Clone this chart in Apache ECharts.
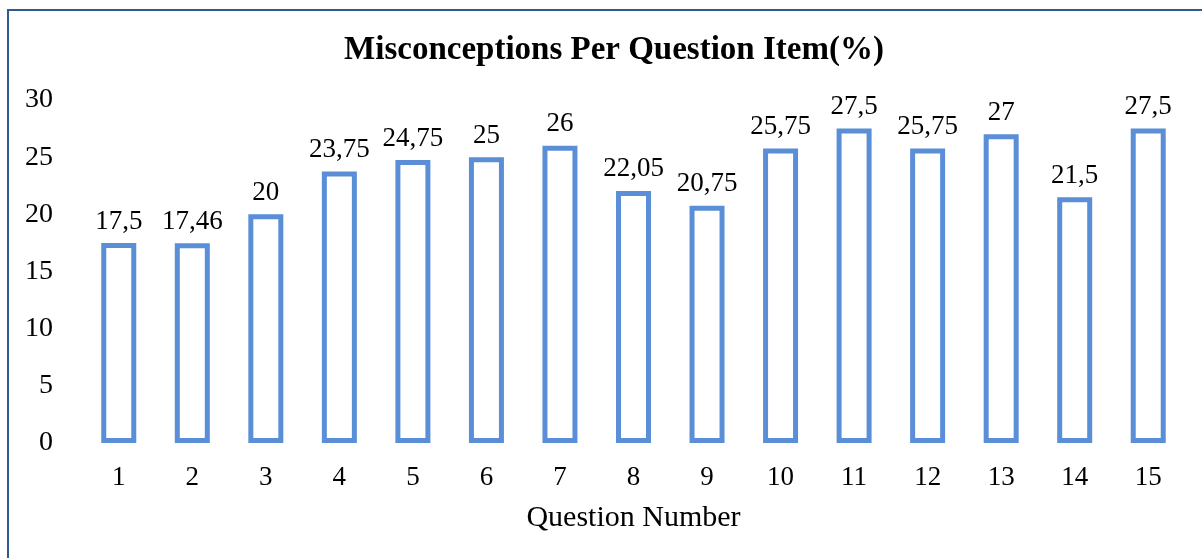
<!DOCTYPE html>
<html><head><meta charset="utf-8">
<script src="https://cdn.jsdelivr.net/npm/echarts@6/dist/echarts.min.js"></script>
<style>html,body{margin:0;padding:0;background:#fff}#c{width:1202px;height:558px}</style>
</head><body><div id="c"></div>
<script>
const categories = ['1','2','3','4','5','6','7','8','9','10','11','12','13','14','15'];
const values = [17.5, 17.46, 20, 23.75, 24.75, 25, 26, 22.05, 20.75, 25.75, 27.5, 25.75, 27, 21.5, 27.5];
const yTicks = [0, 5, 10, 15, 20, 25, 30];
const titleText = 'Misconceptions Per Question Item(%)';
const xName = 'Question Number';

const FONT = '"Liberation Serif", serif';
const chart = echarts.init(document.getElementById('c'), null, {renderer: 'canvas'});
chart.setOption({
  animation: false,
  backgroundColor: '#fff',
  graphic: [{
    type: 'rect', shape: {x: 8, y: 10, width: 1300, height: 700},
    style: {fill: 'none', stroke: '#2E5A8E', lineWidth: 2}, silent: true, z: -1
  }],
  title: {
    text: titleText, left: 609, top: 29, textAlign: 'center',
    textStyle: {fontFamily: FONT, fontWeight: 'bold', fontSize: 33, color: '#000'}
  },
  grid: {left: 82, right: 17, top: 100, bottom: 115},
  xAxis: {
    type: 'category', data: categories,
    name: xName, nameLocation: 'middle', nameGap: 60,
    nameTextStyle: {fontFamily: FONT, fontSize: 30, color: '#000'},
    axisLine: {show: false}, axisTick: {show: false},
    axisLabel: {fontFamily: FONT, fontSize: 27, color: '#000', margin: 21}
  },
  yAxis: {
    type: 'value', min: yTicks[0], max: yTicks[yTicks.length - 1], interval: 5,
    splitLine: {show: false}, axisLine: {show: false}, axisTick: {show: false},
    axisLabel: {fontFamily: FONT, fontSize: 28, color: '#000', margin: 29, align: 'right'}
  },
  series: [{
    type: 'bar', data: values, barWidth: 35,
    itemStyle: {color: '#fff', borderColor: '#5A8ED6', borderWidth: 5},
    label: {
      show: true, position: 'top', distance: 8,
      fontFamily: FONT, fontSize: 27, color: '#000',
      formatter: p => String(p.value).replace('.', ',')
    }
  }]
});
</script></body></html>
